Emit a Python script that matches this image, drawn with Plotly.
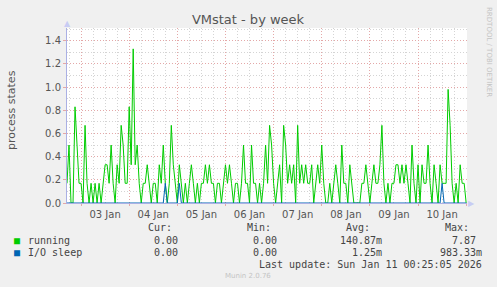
import plotly.graph_objects as go
import pandas as pd

# ---- data (hourly samples) ----
start_time = "2026-01-02 17:00"
end_time = "2026-01-11 00:25"
running = [
    0.17, 0.5, 0, 0, 0.83, 0.5, 0.17, 0.17, 0, 0.67, 0.17, 0, 0.17, 0, 0.17, 0, 0.17, 0, 0.17, 0.33,
    0.33, 0.17, 0.5, 0.17, 0, 0.33, 0.17, 0.67, 0.5, 0.17, 0.17, 0.83, 0.33, 1.33, 0.33, 0.5, 0.17, 0, 0.17, 0.17,
    0.33, 0.17, 0, 0.17, 0.17, 0, 0.33, 0.17, 0.5, 0.17, 0, 0.17, 0.67, 0.33, 0.17, 0, 0.33, 0.17, 0, 0.17,
    0, 0.17, 0.33, 0.17, 0, 0.17, 0, 0.17, 0.17, 0.33, 0.17, 0.33, 0.17, 0.17, 0, 0.17, 0.17, 0, 0.17, 0.33,
    0.17, 0.33, 0.17, 0, 0.17, 0.17, 0, 0.17, 0.5, 0.17, 0.17, 0, 0.5, 0.17, 0.17, 0, 0.17, 0, 0.17, 0.5,
    0.17, 0.67, 0.5, 0.17, 0, 0.17, 0.33, 0, 0.67, 0.5, 0.17, 0.33, 0.17, 0.33, 0, 0.67, 0.17, 0.33, 0.17, 0.33,
    0.17, 0.17, 0.33, 0, 0.17, 0.33, 0.17, 0.5, 0.17, 0, 0, 0.17, 0, 0.17, 0.33, 0.17, 0, 0.5, 0.17, 0.17,
    0, 0.33, 0.17, 0, 0, 0, 0, 0.17, 0.17, 0.33, 0.17, 0, 0.17, 0.33, 0.17, 0.17, 0.33, 0.67, 0.17, 0,
    0.17, 0, 0.17, 0.17, 0.33, 0.33, 0.17, 0.33, 0.17, 0.33, 0.17, 0, 0.5, 0.17, 0, 0.33, 0, 0.33, 0.17, 0.17,
    0.5, 0.17, 0, 0.33, 0.17, 0, 0.33, 0.17, 0.17, 0.17, 0.98, 0.67, 0.17, 0, 0.17, 0, 0.33, 0.17, 0.17, 0,
]
io_sleep = [
    0, 0, 0, 0, 0, 0, 0, 0, 0, 0, 0, 0, 0, 0, 0, 0, 0, 0, 0, 0,
    0, 0, 0, 0, 0, 0, 0, 0, 0, 0, 0, 0, 0, 0, 0, 0, 0, 0, 0, 0,
    0, 0, 0, 0, 0, 0, 0, 0, 0, 0.17, 0, 0, 0, 0, 0, 0, 0.17, 0, 0, 0,
    0, 0, 0, 0, 0, 0, 0, 0, 0, 0, 0, 0, 0, 0, 0, 0, 0, 0, 0, 0,
    0, 0, 0, 0, 0, 0, 0, 0, 0, 0, 0, 0, 0, 0, 0, 0, 0, 0, 0, 0,
    0, 0, 0, 0, 0, 0, 0, 0, 0, 0, 0, 0, 0, 0, 0, 0, 0, 0, 0, 0,
    0, 0, 0, 0, 0, 0, 0, 0, 0, 0, 0, 0, 0, 0, 0, 0, 0, 0, 0, 0,
    0, 0, 0, 0, 0, 0, 0, 0, 0, 0, 0, 0, 0, 0, 0, 0, 0, 0, 0, 0,
    0, 0, 0, 0, 0, 0, 0, 0, 0, 0, 0, 0, 0, 0, 0, 0, 0, 0, 0, 0,
    0, 0, 0, 0, 0, 0, 0, 0.17, 0, 0, 0, 0, 0, 0, 0, 0, 0, 0, 0, 0,
]
series_names = ["running", "I/O sleep"]
series_colors = ["#00cc00", "#0066b3"]
legend_cur = ["0.00", "0.00"]
legend_min = ["0.00", "0.00"]
legend_avg = ["140.87m", "1.25m"]
legend_max = ["7.87", "983.33m"]
title_text = "VMstat - by week"
y_title = "process states"
last_update = "Last update: Sun Jan 11 00:25:05 2026"

times = pd.date_range(start_time, periods=len(running), freq="h")

W, H = 497, 287
L, R, T, B = 67, 467, 28, 203


def px(x):
    return (x - L) / (R - L)


def py(y):
    return (B - y) / (B - T)


fig = go.Figure()
fig.add_trace(go.Scatter(x=times, y=running, mode="lines", line=dict(color=series_colors[0], width=1),
                         hoverinfo="skip", showlegend=False))
fig.add_trace(go.Scatter(x=times, y=io_sleep, mode="lines", line=dict(color=series_colors[1], width=1),
                         hoverinfo="skip", showlegend=False))

MAJOR = "#e4a8a8"
MINOR = "#d4d4d4"
AXIS = "#aab0e4"
TXT = "#555555"
MONO = "DejaVu Sans Mono"

fig.update_layout(
    width=W, height=H, autosize=False,
    margin=dict(l=L, r=W - R, t=T, b=H - B, pad=0),
    paper_bgcolor="#f0f0f0", plot_bgcolor="#ffffff",
    showlegend=False,
    title=dict(text=title_text, x=248 / W, y=1 - 19 / H, xanchor="center", yanchor="middle",
               font=dict(family="DejaVu Sans", size=13, color="#555555")),
    xaxis=dict(
        type="date", range=[start_time, end_time],
        tick0="2026-01-03", dtick=86400000, tickformat="%d %b", ticklabelmode="period",
        showgrid=True, gridcolor=MAJOR, griddash="1px,2px", gridwidth=1,
        minor=dict(dtick=6 * 3600000, showgrid=True, gridcolor=MINOR, griddash="1px,2px", gridwidth=1,
                   ticks=""),
        ticks="outside", ticklen=2, tickcolor=MAJOR,
        showline=True, linecolor=AXIS, linewidth=1,
        zeroline=False,
        tickfont=dict(family="DejaVu Sans", size=10, color=TXT),
    ),
    yaxis=dict(
        range=[0, 1.51], dtick=0.2, tick0=0, tickformat=".1f",
        showgrid=True, gridcolor=MAJOR, griddash="1px,2px", gridwidth=1,
        minor=dict(dtick=0.1, showgrid=True, gridcolor=MINOR, griddash="1px,2px", gridwidth=1, ticks=""),
        ticks="outside", ticklen=3, tickcolor=MAJOR,
        showline=True, linecolor=AXIS, linewidth=1,
        zeroline=False,
        tickfont=dict(family="DejaVu Sans", size=10, color=TXT),
    ),
)

ann = []


def text(x, y, s, anchor="left", size=10, color="#444444", family=MONO, angle=0):
    ann.append(dict(xref="paper", yref="paper", x=px(x), y=py(y), text=s, showarrow=False,
                    xanchor=anchor, yanchor="middle", textangle=angle,
                    font=dict(family=family, size=size, color=color)))


# axis label and side texts
text(12, 110, y_title, anchor="center", size=11, color=TXT, family="DejaVu Sans", angle=-90)
text(489, 52, "RRDTOOL / TOBI OETIKER", anchor="center", size=7, color="#c4c4c4",
     family="DejaVu Sans", angle=90)
# axis arrows
text(67, 23, "▲", anchor="center", size=8, color="#c8ccf4", family="DejaVu Sans")
text(471, 203, "▶", anchor="center", size=8, color="#c8ccf4", family="DejaVu Sans")

# legend header
for lab, xr in zip(["Cur:", "Min:", "Avg:", "Max:"], [174, 273, 372, 471]):
    text(xr, 227, lab, anchor="right")
rows_y = [240, 252]
for i in range(2):
    yy = rows_y[i]
    text(17, yy, "■", anchor="center", size=10, color=series_colors[i])
    text(26, yy, series_names[i], anchor="left")
    text(180, yy, legend_cur[i], anchor="right")
    text(279, yy, legend_min[i], anchor="right")
    text(384, yy, legend_avg[i], anchor="right")
    text(478 if not legend_max[i].endswith("m") else 484, yy, legend_max[i], anchor="right")
text(484, 264, last_update, anchor="right")
text(248, 276, "Munin 2.0.76", anchor="center", size=7, color="#c4c4c4", family="DejaVu Sans")

fig.update_layout(annotations=ann)
fig.write_html("out.html")
